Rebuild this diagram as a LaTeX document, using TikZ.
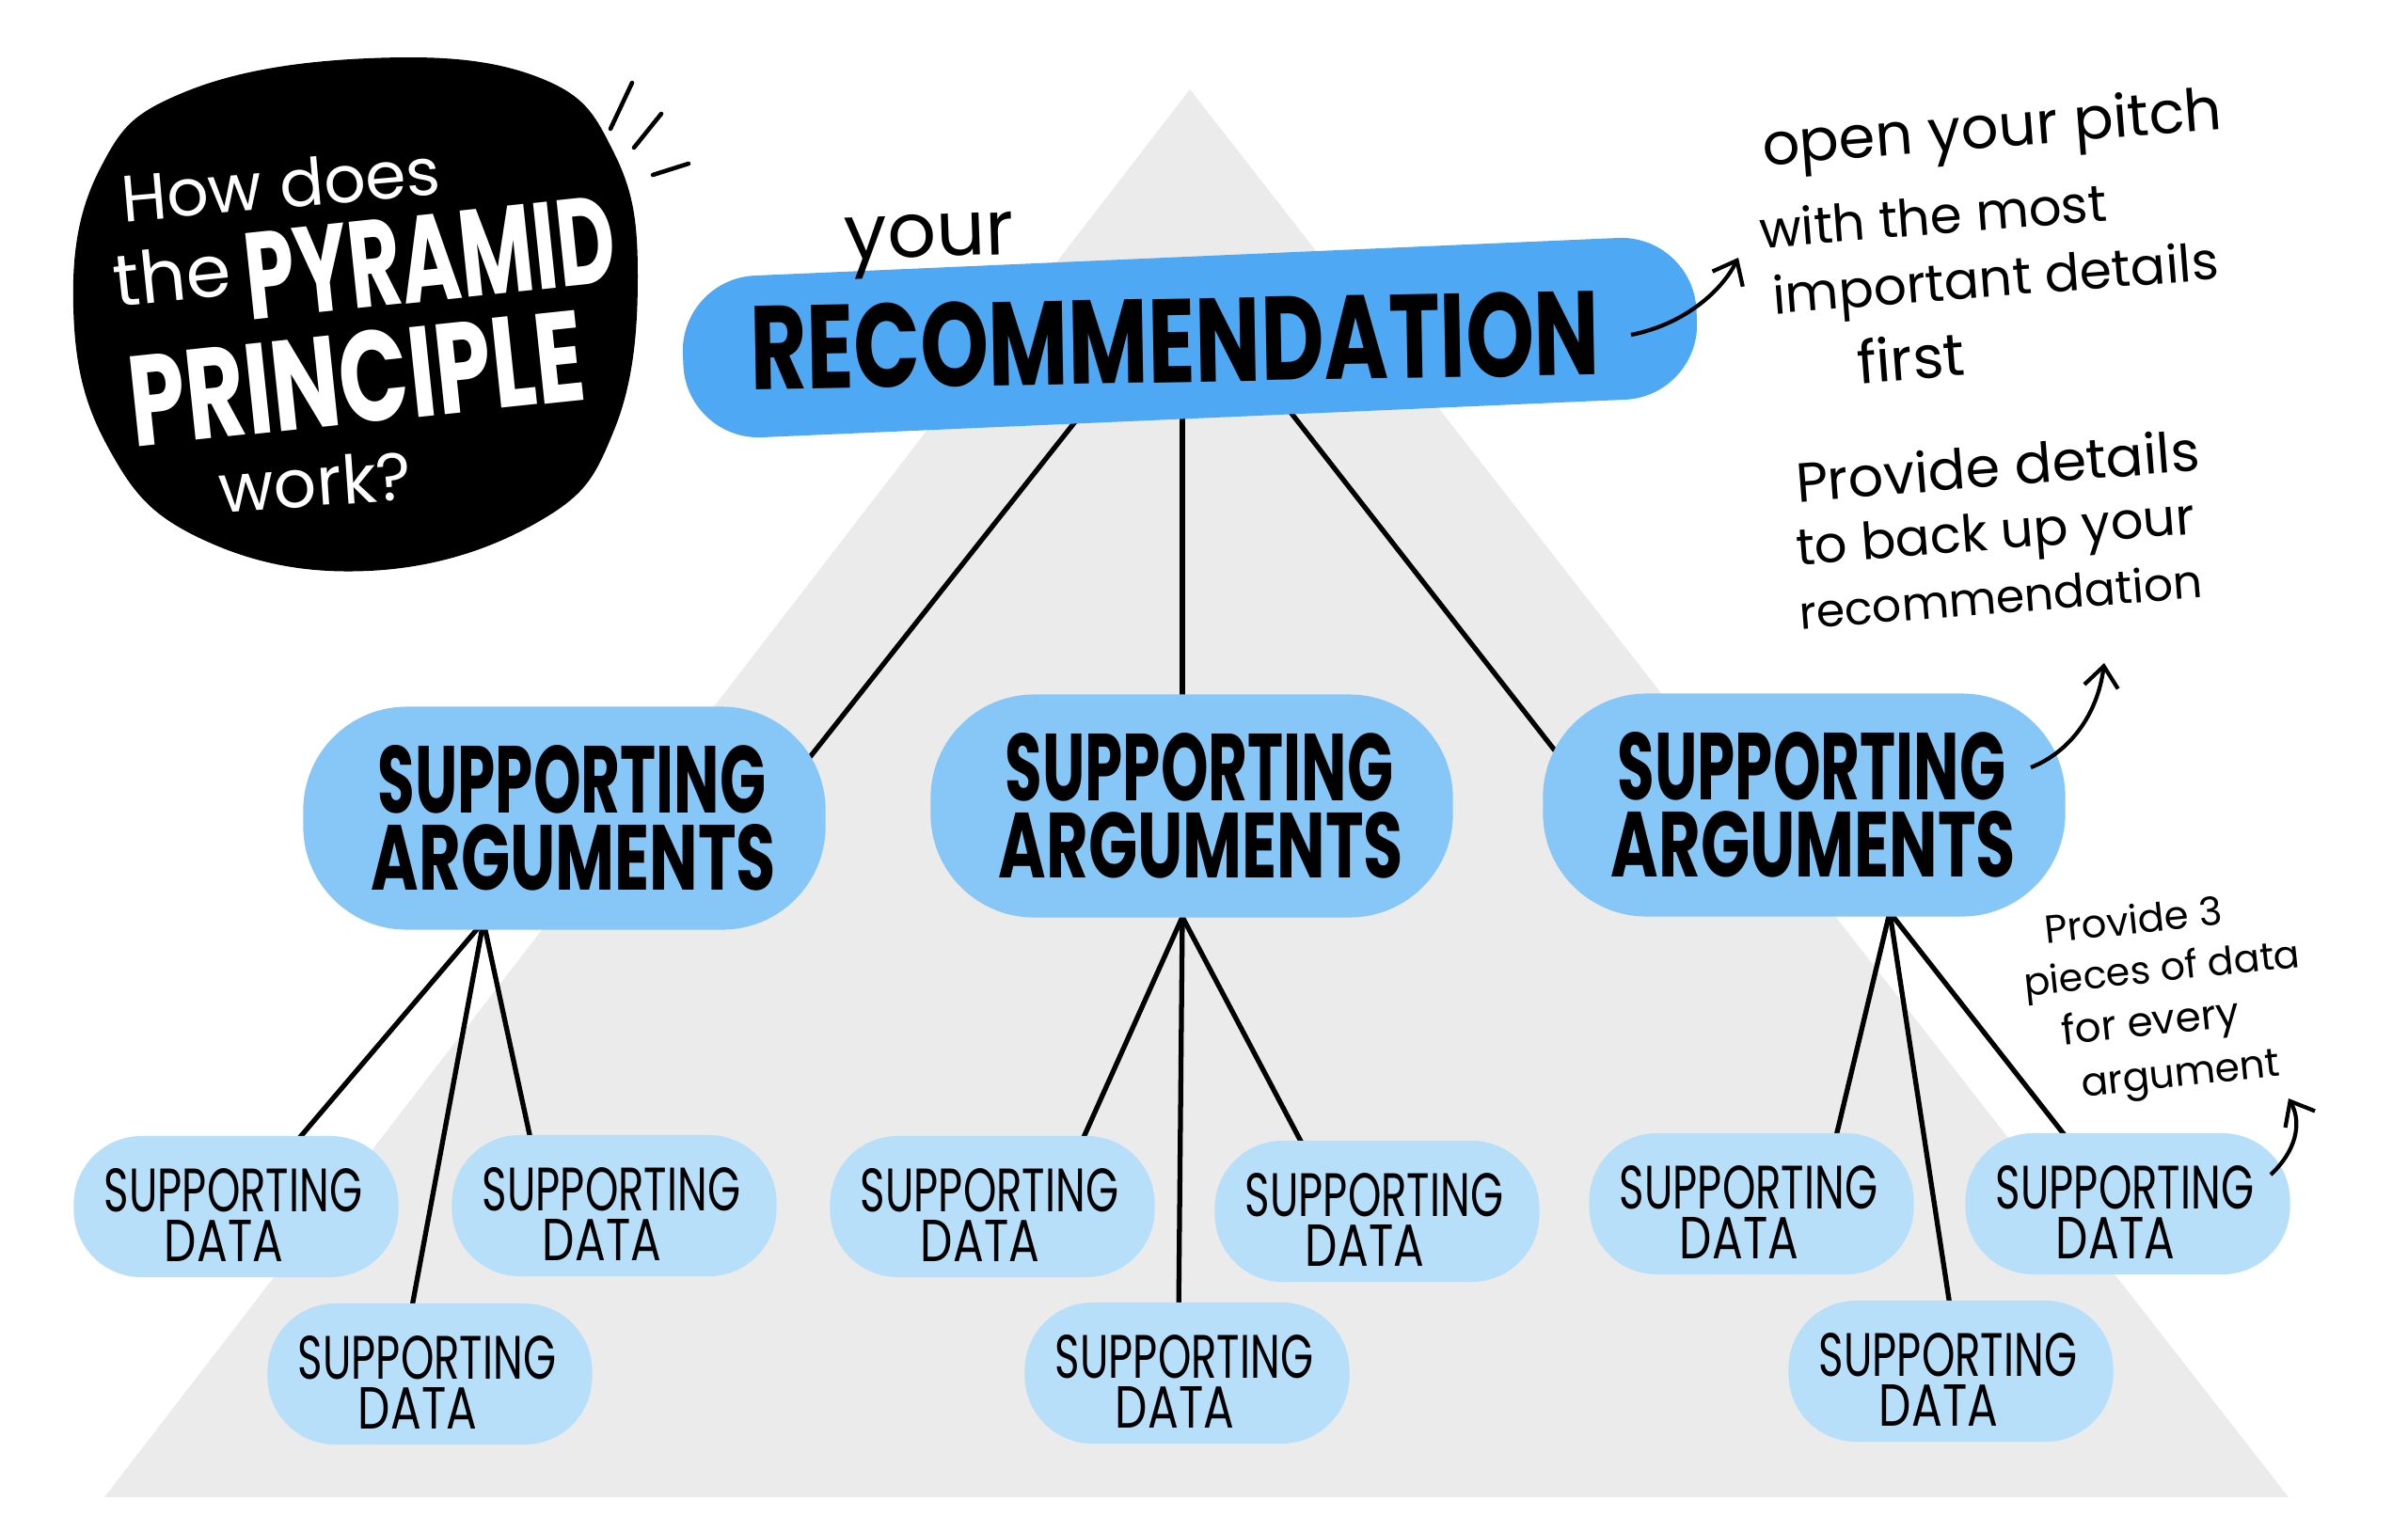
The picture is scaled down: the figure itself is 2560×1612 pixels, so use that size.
\documentclass[tikz,border=0pt]{standalone}
\usepackage{fontspec}
\usepackage{graphicx}
\setmainfont{Poppins}
\usetikzlibrary{arrows.meta,calc}
\definecolor{pyrgrey}{HTML}{EBEBEB}
\definecolor{recblue}{HTML}{4FA8F3}
\definecolor{argblue}{HTML}{86C7F8}
\definecolor{datablue}{HTML}{B8DFFA}
\pgfdeclarelayer{back}
\pgfdeclarelayer{wires}
\pgfsetlayers{back,wires,main}
\newcommand{\capw}[3]{\resizebox{#1cm}{#2cm}{\bfseries #3}}
\newcommand{\capr}[3]{\resizebox{#1cm}{#2cm}{#3}}
\newcommand{\handw}[2]{\resizebox{#1cm}{!}{#2}}
\newlength\tmpw
\tikzset{
 txt/.style={inner sep=0pt, outer sep=0pt},
 recpill/.style={fill=recblue, rounded corners=0.8cm, minimum width=10.78cm, minimum height=1.72cm, inner sep=0pt},
 argpill/.style={fill=argblue, rounded corners=1.1cm, minimum width=5.55cm, minimum height=2.37cm, inner sep=0pt},
 datapill/.style={fill=datablue, rounded corners=0.72cm, minimum width=3.45cm, minimum height=1.5cm, inner sep=0pt},
 wire/.style={line width=1.5pt, black},
 notearrow/.style={line width=1.2pt, -{Straight Barb[length=0.22cm,width=0.36cm]}},
}
% a handwritten line, set word by word along a tilted baseline
\newcommand{\wline}[7]{%
  \foreach \w [count=\i, remember=\i as \j (initially 0)] in {#7}{%
    \ifnum\i=1
      \node[txt, rotate=#4, anchor=base west] (#1-\i) at (#2,#3) {\settowidth{\tmpw}{#6}\pgfmathsetmacro{\lf}{#5*28.45276/\tmpw}\xdef\lfg{\lf}\scalebox{\lfg}{\w}};
    \else
      \node[txt, rotate=#4, anchor=base west] (#1-\i) at (#1-\j.base east) {\scalebox{\lfg}{\ \w}};
    \fi
  }%
}
\newcommand{\dpill}[3]{%
  \node[datapill] (#1) at (#2,#3) {};
  \node[txt] (#1s) at ($(#1)+(-3,-17)$) {\capr{2.74}{0.46}{SUPPORTING}};
  \node[txt] (#1d) at ($(#1)+(-13,36)$) {\capr{1.26}{0.44}{DATA}};
}
\newcommand{\apill}[3]{%
  \node[argpill] (#1) at (#2,#3) {};
  \node[txt] (#1s) at ($(#1)+(8,-41)$) {\capw{4.12}{0.72}{SUPPORTING}};
  \node[txt] (#1a) at ($(#1)+(10,42)$) {\capw{4.3}{0.70}{ARGUMENTS}};
}
\begin{document}
\begin{tikzpicture}[x=0.01cm,y=-0.01cm]
\useasboundingbox (0,0) rectangle (2560,1612);
\begin{pgfonlayer}{back}
\fill[white] (0,0) rectangle (2560,1612);
\fill[pyrgrey] (1265,95) -- (2433,1592) -- (111,1592) -- cycle;
\end{pgfonlayer}

% title blob
\fill[black] plot[smooth cycle, tension=0.7] coordinates {(78,327) (106,180) (196,98) (392,62) (572,82) (653,163) (678,294) (653,457) (572,555) (392,607) (212,572) (114,474)};
\draw[line width=1.3pt, line cap=round] (649,137) -- (672,88);
\draw[line width=1.3pt, line cap=round] (674,157) -- (703,121);
\draw[line width=1.3pt, line cap=round] (694,186) -- (732,174);
\begin{scope}[white]
\wline{t1}{131}{236}{5}{3.4}{How does}{How,does}
\node[txt, white, rotate=6] (t2) at (183,292) {\handw{1.25}{the}};
\node[txt, white, rotate=6] (t3) at (457,274) {\capw{3.95}{0.92}{PYRAMID}};
\node[txt, white, rotate=6] (t4) at (379,402) {\capw{4.85}{0.97}{PRINCIPLE}};
\node[txt, white, rotate=4] (t5) at (335,512) {\handw{2.05}{work?}};
\end{scope}

% recommendation
\node[recpill, rotate=2.5] (rec) at (1265,359) {};
\node[txt, rotate=2] (your) at (988,261) {\handw{1.8}{your}};
\node[txt, rotate=1] (rect) at (1249,362) {\capw{9.03}{0.9}{RECOMMENDATION}};

% arguments
\apill{argL}{600}{870}
\apill{argM}{1267}{857}
\apill{argR}{1918}{856}

% data
\dpill{A1}{251}{1283}
\dpill{A2}{653}{1282}
\dpill{A3}{457}{1461}
\dpill{B1}{1055}{1283}
\dpill{B2}{1464}{1288}
\dpill{B3}{1262}{1460}
\dpill{C1}{1862}{1280}
\dpill{C2}{2262}{1280}
\dpill{C3}{2074}{1458}

% connectors
\begin{pgfonlayer}{wires}
\draw[wire] ($(rec)+(-113,78)$) -- ($(argL)+(250,-51)$);
\draw[wire] ($(rec)+(-8,78)$) -- ($(argM)+(-10,-107)$);
\draw[wire] ($(rec)+(106,78)$) -- ($(argR)+(-251,-40)$);
\draw[wire] ($(argL)+(-86,110)$) -- ($(A1)+(63,-68)$);
\draw[wire] ($(argL)+(-86,110)$) -- ($(A3)+(-20,-66)$);
\draw[wire] ($(argL)+(-86,110)$) -- ($(A2)+(-86,-57)$);
\draw[wire] ($(argM)+(-10,118)$) -- ($(B1)+(90,-58)$);
\draw[wire] ($(argM)+(-10,118)$) -- ($(B3)+(-9,-60)$);
\draw[wire] ($(argM)+(-10,118)$) -- ($(B2)+(-75,-63)$);
\draw[wire] ($(argR)+(91,114)$) -- ($(C1)+(86,-55)$);
\draw[wire] ($(argR)+(91,114)$) -- ($(C3)+(0,-63)$);
\draw[wire] ($(argR)+(91,114)$) -- ($(C2)+(-53,-55)$);
\end{pgfonlayer}

% notes
\wline{n1a}{1875}{176}{4.5}{4.9}{open your pitch}{open,your,pitch}
\wline{n1b}{1872}{264}{4.5}{3.7}{with the most}{with,the,most}
\wline{n1c}{1886}{334}{4.5}{4.75}{important details}{important,details}
\wline{n1d}{1976}{408}{4.5}{1.15}{first}{first}
\wline{n2a}{1911}{534}{4.5}{4.3}{Provide details}{Provide,details}
\wline{n2b}{1911}{601}{4.5}{4.25}{to back up your}{to,back,up,your}
\wline{n2c}{1914}{669}{4.5}{4.3}{recommendation}{recommendation}
\wline{n3a}{2175}{1003}{6}{1.9}{Provide 3}{Provide,3}
\wline{n3b}{2153}{1059}{6}{2.95}{pieces of data}{pieces,of,data}
\wline{n3c}{2193}{1111}{6}{1.9}{for every}{for,every}
\wline{n3d}{2214}{1166}{6}{2.12}{argument}{argument}

\coordinate (tip1) at (1848,274);
\coordinate (tip2) at (2237,705);
\coordinate (tip3) at (2433,1168);
\draw[notearrow] ($(rec)+(469,-3)$) .. controls ($(rec)+(525,-14)$) and ($(rec)+(565,-49)$) .. (tip1);
\draw[notearrow] ($(argR)+(241,-40)$) .. controls (2200,800) and (2230,760) .. (tip2);
\draw[notearrow] ($(C2)+(152,-31)$) .. controls (2440,1225) and (2448,1195) .. (tip3);
\end{tikzpicture}
\end{document}
